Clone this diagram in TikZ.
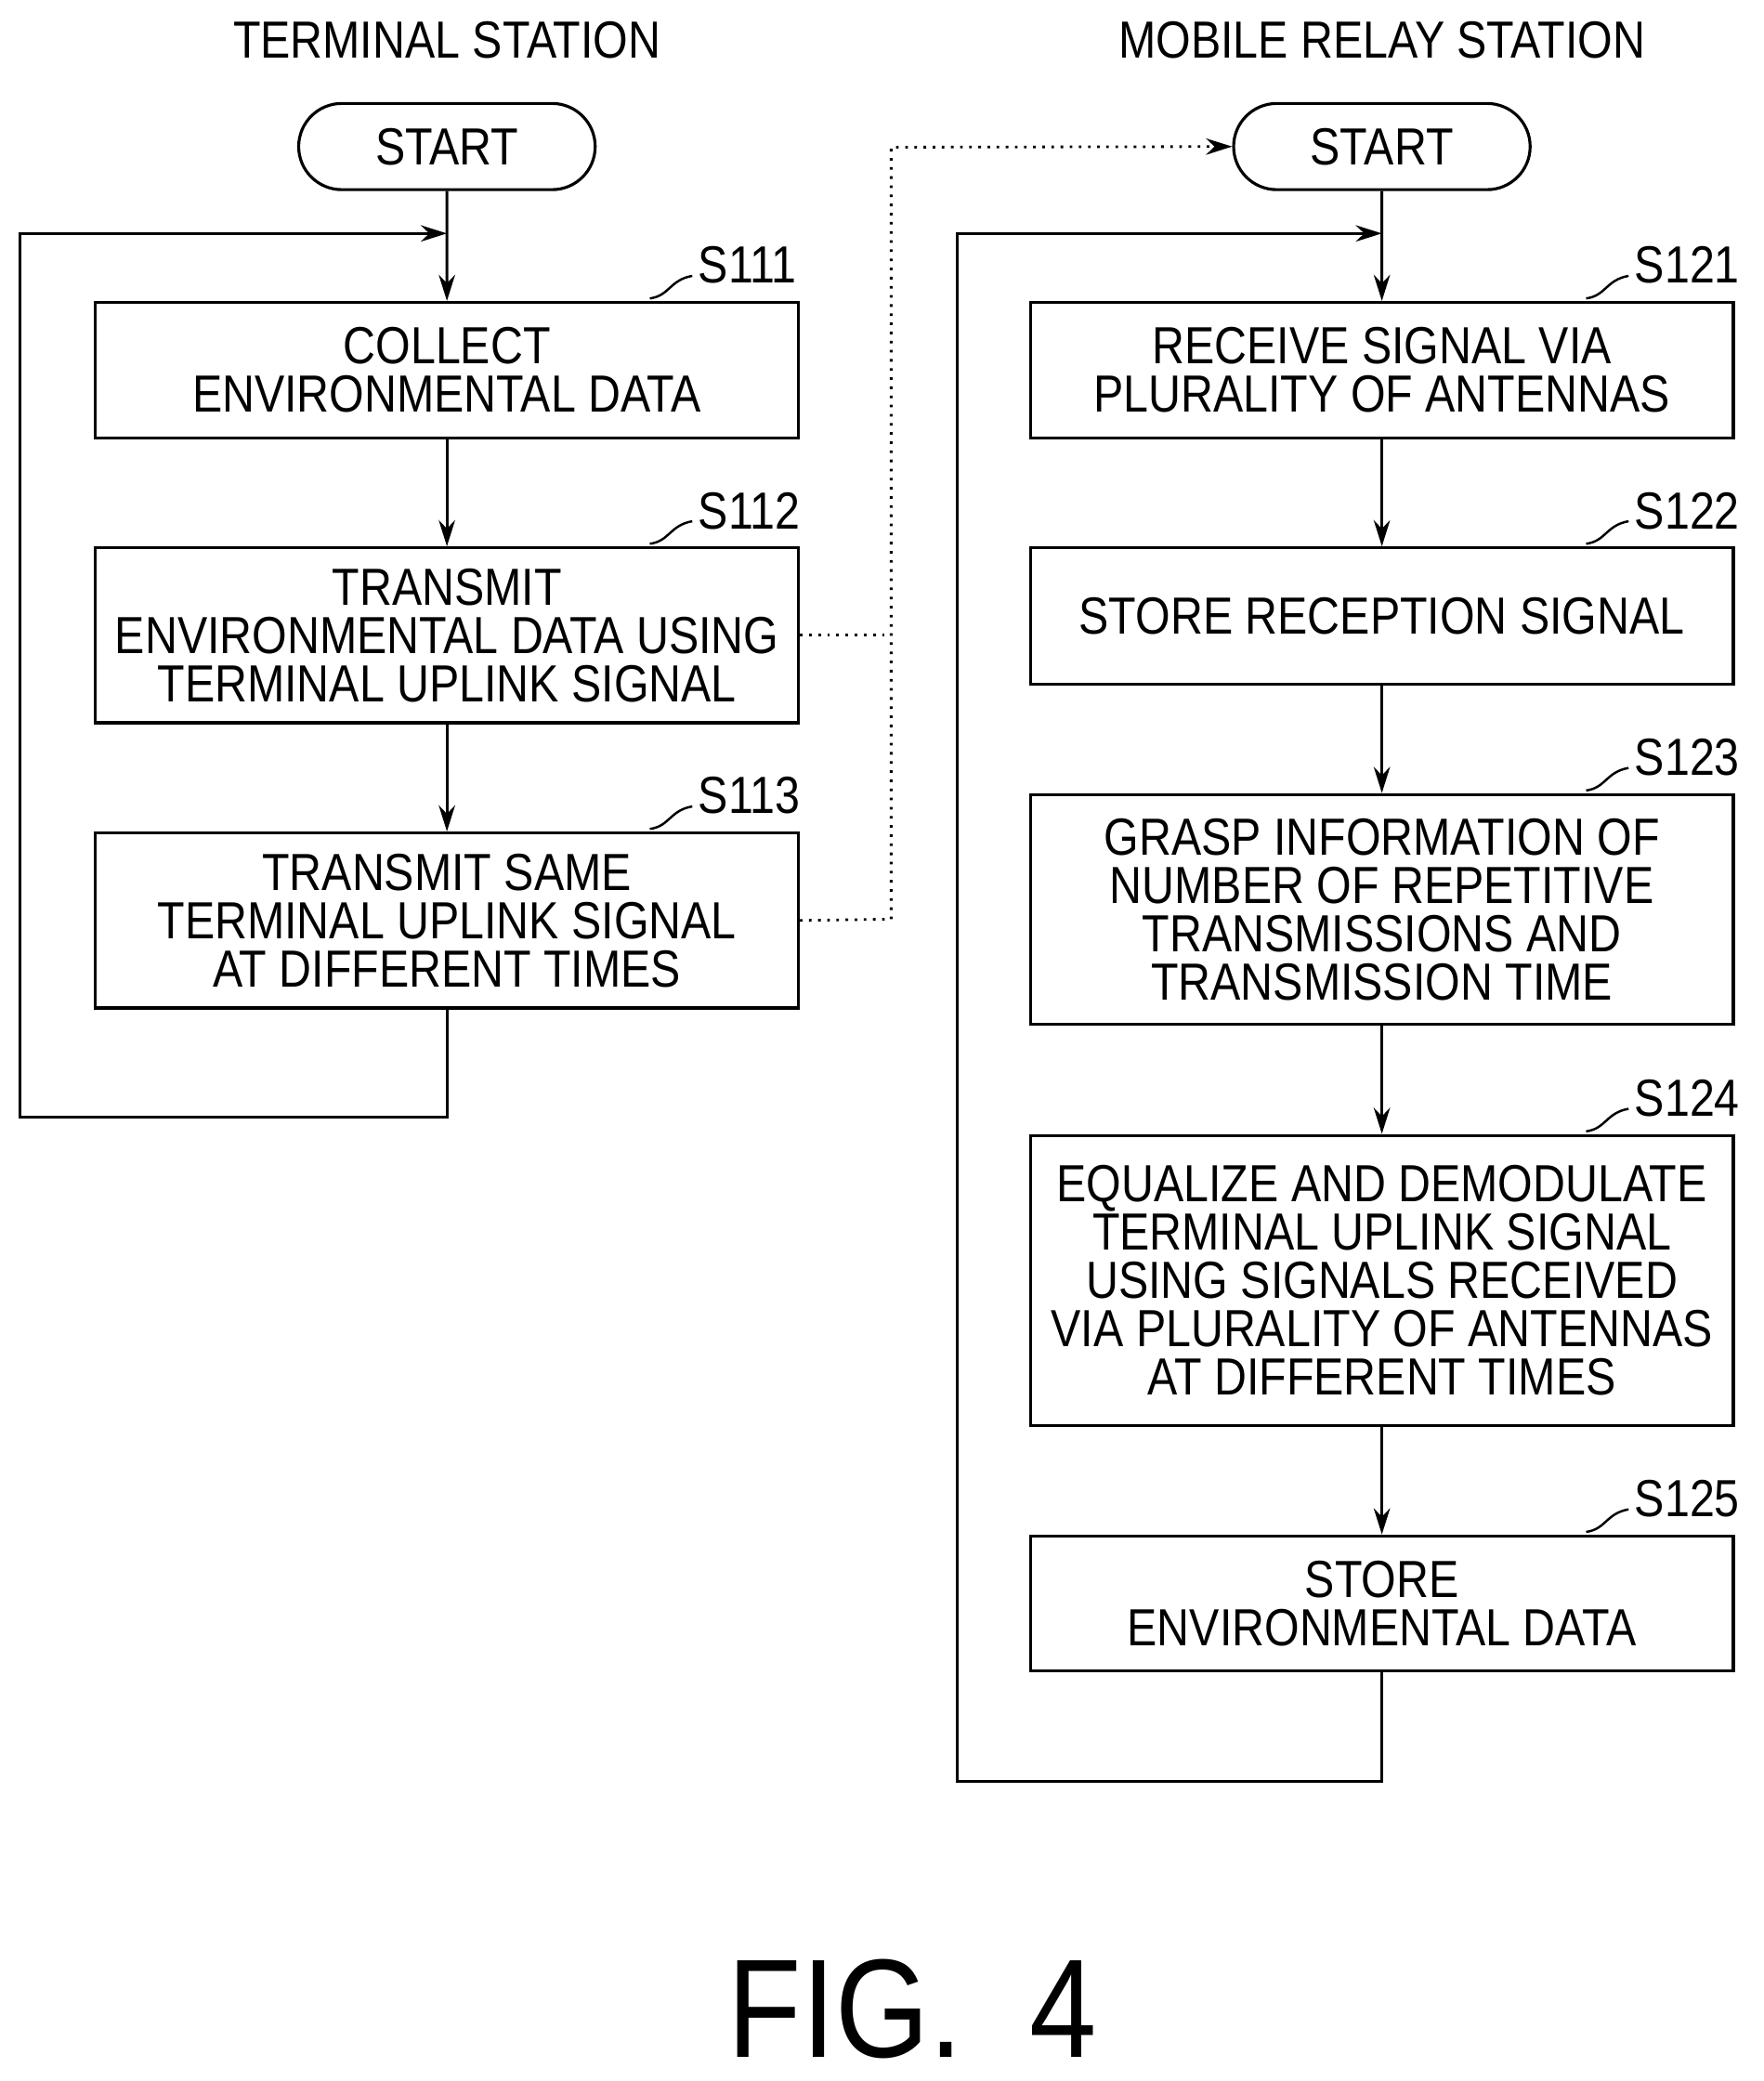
\documentclass[tikz,border=0pt]{standalone}
\usepackage{fontspec}
\setmainfont{Liberation Sans}[FakeStretch=0.86]
\usetikzlibrary{arrows.meta,shapes.misc}

\tikzset{
  stepbox/.style={draw,line width=0.9pt,minimum width=530*0.01428cm,align=center,
    font=\fontsize{16}{14.8}\selectfont,inner sep=0pt},
  term/.style={draw,line width=0.9pt,rounded rectangle,minimum width=231*0.01428cm,
    minimum height=65*0.01428cm,font=\fontsize{16}{18}\selectfont},
  flow/.style={line width=0.9pt,-{Stealth[length=8pt,width=5pt]}},
  tag/.style={font=\fontsize{16}{18}\selectfont,anchor=west},
}

\begin{document}
\begin{tikzpicture}[x=0.01428cm,y=-0.01428cm]
	\useasboundingbox (0,0) rectangle (1330,1569);
	
	% headings
	\node[font=\fontsize{16}{18}\selectfont] (tsh) at (337,30) {TERMINAL STATION};
	\node[font=\fontsize{16}{18}\selectfont] (mrh) at (1042,30) {MOBILE RELAY STATION};
	
	% terminal station
	\node[term,minimum width=240*0.01428cm] (ts) at (337,110.5) {START};
	\node[stepbox,minimum height=102*0.01428cm] (s111) at (337,279) {COLLECT\\ENVIRONMENTAL DATA};
	\node[stepbox,minimum height=132*0.01428cm] (s112) at (337,479) {TRANSMIT\\ENVIRONMENTAL DATA USING\\TERMINAL UPLINK SIGNAL};
	\node[stepbox,minimum height=132*0.01428cm] (s113) at (337,694) {TRANSMIT SAME\\TERMINAL UPLINK SIGNAL\\AT DIFFERENT TIMES};
	\coordinate (tl) at (337,176);
	
	% mobile relay station
	\node[term,minimum width=240*0.01428cm] (ms) at (1042,110.5) {START};
	\node[stepbox,minimum height=102*0.01428cm] (s121) at (1042,279) {RECEIVE SIGNAL VIA\\PLURALITY OF ANTENNAS};
	\node[stepbox,minimum height=103*0.01428cm] (s122) at (1042,464.5) {STORE RECEPTION SIGNAL};
	\node[stepbox,minimum height=173*0.01428cm] (s123) at (1042,685.5) {GRASP INFORMATION OF\\NUMBER OF REPETITIVE\\TRANSMISSIONS AND\\TRANSMISSION TIME};
	\node[stepbox,minimum height=219*0.01428cm] (s124) at (1042,965.5) {EQUALIZE AND DEMODULATE\\TERMINAL UPLINK SIGNAL\\USING SIGNALS RECEIVED\\VIA PLURALITY OF ANTENNAS\\AT DIFFERENT TIMES};
	\node[stepbox,minimum height=102*0.01428cm] (s125) at (1042,1209) {STORE\\ENVIRONMENTAL DATA};
	\coordinate (ml) at (1042,176);
	
	% step tags
	\foreach \n/\x/\y in {S111/490/225, S112/490/410, S113/490/625}
	  {\draw[line width=0.7pt] (\x,\y) .. controls (\x+15,\y-2) and (\x+15,\y-14) .. (\x+32,\y-17);
	   \node[tag] at (\x+28,\y-25) {\n};}
	\foreach \n/\y in {S121/225, S122/410, S123/596, S124/853, S125/1155}
	  {\draw[line width=0.7pt] (1196,\y) .. controls (1211,\y-2) and (1211,\y-14) .. (1228,\y-17);
	   \node[tag] at (1224,\y-25) {\n};}
	
	% flow
	\draw[flow] (ts) -- (s111);
	\draw[flow] (s111) -- (s112);
	\draw[flow] (s112) -- (s113);
	\draw[flow] (s113.south) -- (337,842) -- (15,842) -- (15,176) -- (tl);
	\draw[flow] (ms) -- (s121);
	\draw[flow] (s121) -- (s122);
	\draw[flow] (s122) -- (s123);
	\draw[flow] (s123) -- (s124);
	\draw[flow] (s124) -- (s125);
	\draw[flow] (s125.south) -- (1042,1343) -- (722,1343) -- (722,176) -- (ml);
	
	% signal link
	\draw[line width=0.8pt,dotted] (s112.east) -- (672,479);
	\draw[line width=0.8pt,dotted,-{Stealth[length=8pt,width=5pt]}] (s113.east) -- (672,693) -- (672,111) -- (ms.west);
	
	\node[font=\fontsize{43}{48}\selectfont] (fig) at (688,1515) {FIG.~~4};
\end{tikzpicture}
\end{document}
